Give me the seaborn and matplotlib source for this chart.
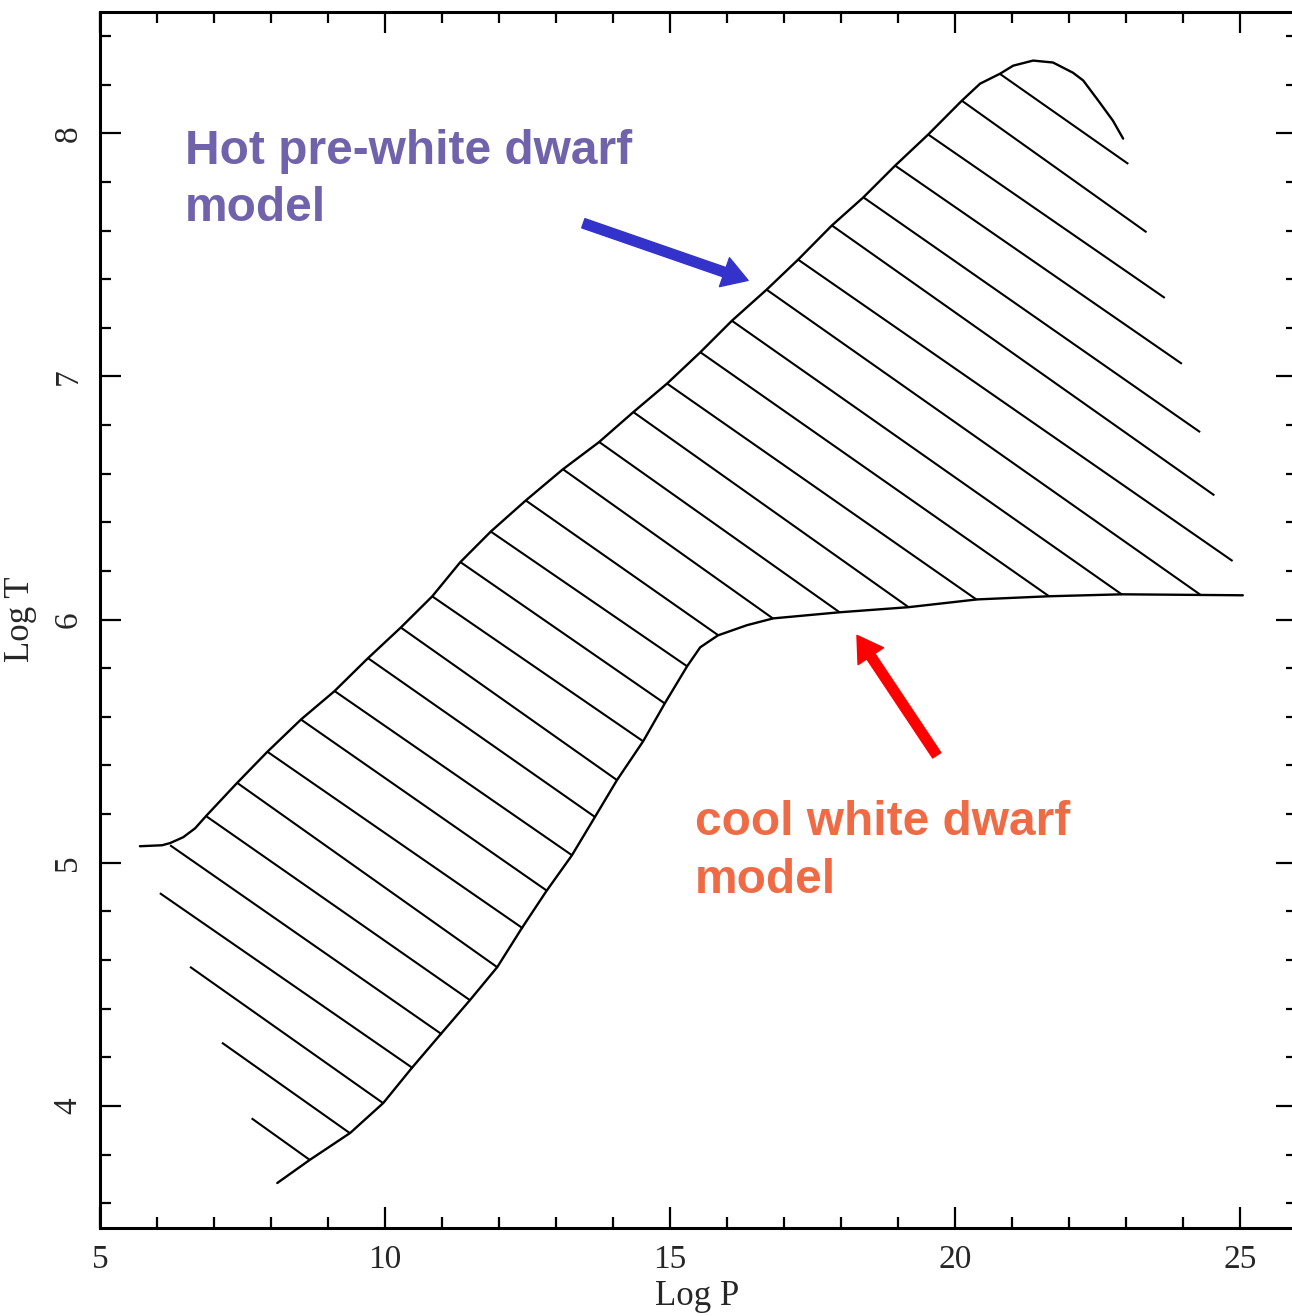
import matplotlib
matplotlib.use('Agg')
import matplotlib.pyplot as plt
from matplotlib.collections import LineCollection
from matplotlib.ticker import MultipleLocator
import seaborn as sns

# hot pre-white dwarf model (upper / left boundary)
hot_logp = [5.70, 6.09, 6.23, 6.46, 6.67, 6.86, 7.40, 7.93, 8.53, 9.11, 9.70, 10.28,
            10.83, 11.32, 11.86, 12.47, 13.12, 13.75, 14.35, 14.95, 15.53, 16.09,
            16.70, 17.25, 17.84, 18.39, 18.95, 19.53, 20.12, 20.44, 20.79, 21.02,
            21.37, 21.72, 22.07, 22.25, 22.54, 22.77, 22.95]
hot_logt = [5.068, 5.072, 5.081, 5.105, 5.142, 5.192, 5.327, 5.455, 5.590, 5.705,
            5.841, 5.968, 6.096, 6.236, 6.363, 6.490, 6.618, 6.729, 6.852, 6.971,
            7.099, 7.230, 7.358, 7.481, 7.621, 7.736, 7.867, 7.995, 8.134, 8.204,
            8.245, 8.278, 8.299, 8.291, 8.249, 8.217, 8.126, 8.052, 7.978]

# cool white dwarf model (lower / right boundary)
cool_logp = [8.11, 8.68, 9.39, 9.97, 10.47, 10.98, 11.49, 11.97, 12.40, 12.83, 13.28,
             13.68, 14.07, 14.53, 14.91, 15.30, 15.53, 15.84, 16.35, 16.81, 17.97,
             19.18, 20.39, 21.65, 22.93, 25.05]
cool_logt = [3.683, 3.778, 3.889, 4.012, 4.156, 4.296, 4.435, 4.571, 4.731, 4.883,
             5.031, 5.187, 5.340, 5.500, 5.656, 5.808, 5.886, 5.935, 5.977, 6.005,
             6.030, 6.051, 6.083, 6.096, 6.104, 6.100]

# hatch strokes filling the region between the two models
hatch_x0 = [20.79, 20.12, 19.53, 18.95, 18.39, 17.84, 17.25, 16.70, 16.08, 15.53,
            14.94, 14.36, 13.76, 13.13, 12.47, 11.85, 11.32, 10.82, 10.28, 9.71,
            9.11, 8.52, 7.94, 7.41, 6.86, 6.23, 6.05, 6.58, 7.14, 7.66]
hatch_y0 = [8.244, 8.134, 7.995, 7.867, 7.737, 7.621, 7.480, 7.356, 7.230, 7.100,
            6.972, 6.853, 6.730, 6.617, 6.490, 6.363, 6.237, 6.097, 5.967, 5.840,
            5.707, 5.590, 5.456, 5.328, 5.192, 5.072, 4.875, 4.572, 4.260, 3.949]
hatch_x1 = [23.04, 23.36, 23.68, 23.98, 24.30, 24.55, 24.87, 24.30, 22.93, 21.65,
            20.38, 19.18, 17.97, 16.81, 15.85, 15.30, 14.91, 14.52, 14.07, 13.68,
            13.28, 12.84, 12.42, 11.96, 11.49, 11.00, 10.49, 9.97, 9.39, 8.68]
hatch_y1 = [7.874, 7.593, 7.323, 7.052, 6.771, 6.511, 6.241, 6.103, 6.103, 6.096,
            6.082, 6.052, 6.031, 6.004, 5.935, 5.808, 5.655, 5.501, 5.340, 5.189,
            5.031, 4.885, 4.730, 4.572, 4.435, 4.294, 4.155, 4.011, 3.887, 3.778]

# annotations: text lines (x, baseline y) and arrows (tail -> tip)
hot_label = ["Hot pre-white dwarf", "model"]
hot_label_xy = [(6.49, 7.875), (6.49, 7.641)]
hot_arrow = [(13.48, 7.630), (16.37, 7.395)]
cool_label = ["cool white dwarf", "model"]
cool_label_xy = [(15.44, 5.113), (15.44, 4.874)]
cool_arrow = [(19.68, 5.442), (18.28, 5.935)]

sns.set_theme(style="ticks")
plt.rcParams['font.family'] = ['Liberation Serif', 'DejaVu Serif']
plt.rcParams['axes.linewidth'] = 2.2
plt.rcParams['axes.edgecolor'] = 'black'

fig = plt.figure(figsize=(12.92, 13.16), dpi=100)
fig.patch.set_facecolor('white')
# right spine sits just past the image edge, as in the original scan
ax = fig.add_axes([100 / 1292, 88.5 / 1316, 1197 / 1292, 1215.8 / 1316])
ax.set_facecolor('white')

sns.lineplot(x=hot_logp, y=hot_logt, sort=False, estimator=None,
             color='black', linewidth=1.7, ax=ax)
sns.lineplot(x=cool_logp, y=cool_logt, sort=False, estimator=None,
             color='black', linewidth=1.7, ax=ax)

segs = [[(a, b), (c, d)] for a, b, c, d in zip(hatch_x0, hatch_y0, hatch_x1, hatch_y1)]
ax.add_collection(LineCollection(segs, colors='black', linewidths=1.5))

ax.set_xlim(5, 26)
ax.set_ylim(3.5, 8.5)
ax.xaxis.set_major_locator(MultipleLocator(5))
ax.xaxis.set_minor_locator(MultipleLocator(1))
ax.yaxis.set_major_locator(MultipleLocator(1))
ax.yaxis.set_minor_locator(MultipleLocator(0.2))
ax.tick_params(which='both', direction='in', top=True, right=True, width=1.6, color='black')
ax.tick_params(which='major', length=15, labelsize=24, pad=12)
ax.tick_params(which='minor', length=8)
ax.tick_params(axis='y', labelrotation=90)
for lbl in ax.get_yticklabels():
    lbl.set_va('center')

ax.set_xlabel('Log P', fontsize=25)
ax.set_ylabel('Log T', fontsize=25)
ax.xaxis.set_label_coords(0.4987, -0.043)
ax.yaxis.set_label_coords(-0.053, 0.5)

for txt, (x, y) in zip(hot_label, hot_label_xy):
    ax.text(x, y, txt, color='#7163AB', fontsize=34.5, fontweight='bold',
            family=['Liberation Sans', 'DejaVu Sans'], va='baseline', ha='left')
for txt, (x, y) in zip(cool_label, cool_label_xy):
    ax.text(x, y, txt, color='#EF6B45', fontsize=34.5, fontweight='bold',
            family=['Liberation Sans', 'DejaVu Sans'], va='baseline', ha='left')

arrow_style = 'simple,head_length=0.9,head_width=1.1,tail_width=0.35'
ax.annotate('', xy=hot_arrow[1], xytext=hot_arrow[0],
            arrowprops=dict(arrowstyle=arrow_style, color='#3333CC',
                            mutation_scale=20, shrinkA=0, shrinkB=0))
ax.annotate('', xy=cool_arrow[1], xytext=cool_arrow[0],
            arrowprops=dict(arrowstyle=arrow_style, color='#FF0000',
                            mutation_scale=20, shrinkA=0, shrinkB=0))

fig.savefig('out.png', dpi=100, facecolor='white')
